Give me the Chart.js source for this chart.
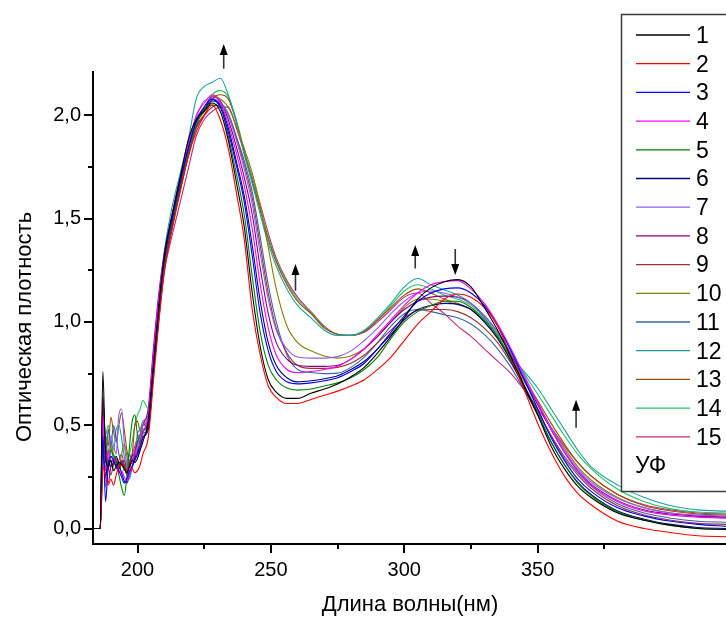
<!DOCTYPE html>
<html>
<head>
<meta charset="utf-8">
<script src="https://cdn.jsdelivr.net/npm/chart.js@4.4.1/dist/chart.umd.min.js"></script>
<style>
  html, body { margin: 0; padding: 0; background: #fff; }
  #wrap { width: 726px; height: 619px; }
</style>
</head>
<body>
<div id="wrap"><canvas id="spectra" width="726" height="619"></canvas></div>
<script>
// wavelength grid, nm
const wavelengths = [
  183.4, 186, 187, 188, 189, 190, 191, 192, 193, 194, 195, 196, 197, 198, 199, 200, 201, 202,
  204, 206, 208, 210, 213, 216, 219, 222, 225, 228, 231,
  234, 237, 240, 243, 246, 249, 252, 256, 260,
  265, 270, 275, 280, 285, 290, 295, 300, 305, 310, 315, 320, 325, 330, 335, 340, 345, 350, 355, 360, 365, 370,
  380, 390, 400, 410, 421
];

// optical density, one array per spectrum
const s1 = [0,0,0.76,0.35,0.30,0.33,0.28,0.30,0.32,0.31,0.29,0.27,0.30,0.33,0.32,0.34,0.38,0.42,
  0.52,0.80,1.08,1.32,1.52,1.70,1.88,1.98,2.02,2.06,2.02,
  1.88,1.68,1.46,1.14,0.88,0.72,0.66,0.63,0.63,
  0.655,0.675,0.70,0.735,0.78,0.85,0.93,1.02,1.11,1.165,1.195,1.205,1.17,1.07,0.96,0.83,0.69,0.55,0.40,0.29,0.205,0.15,
  0.075,0.04,0.015,0.0,-0.005];
const s2 = [0,0,0.30,0.25,0.21,0.24,0.21,0.26,0.30,0.31,0.30,0.27,0.30,0.29,0.27,0.28,0.31,0.36,
  0.44,0.72,1.00,1.24,1.45,1.63,1.80,1.92,2.00,2.05,1.98,
  1.84,1.63,1.40,1.06,0.84,0.69,0.635,0.605,0.605,
  0.625,0.645,0.665,0.69,0.72,0.77,0.83,0.91,0.99,1.05,1.11,1.135,1.12,1.07,0.98,0.83,0.67,0.51,0.37,0.255,0.17,0.115,
  0.035,0.0,-0.02,-0.035,-0.04];
const s3 = [0,0,0.45,0.13,0.30,0.35,0.33,0.30,0.28,0.25,0.22,0.24,0.28,0.30,0.33,0.36,0.40,0.44,
  0.50,0.78,1.06,1.30,1.50,1.68,1.84,1.97,2.04,2.08,2.04,
  1.92,1.76,1.58,1.32,1.04,0.86,0.76,0.71,0.70,
  0.705,0.715,0.73,0.76,0.80,0.87,0.95,1.03,1.10,1.14,1.16,1.165,1.14,1.08,0.98,0.86,0.72,0.58,0.44,0.33,0.24,0.18,
  0.10,0.06,0.035,0.02,0.01];
const s4 = [0,0,0.55,0.28,0.38,0.32,0.34,0.30,0.27,0.28,0.25,0.23,0.26,0.30,0.38,0.35,0.40,0.46,
  0.55,0.85,1.12,1.32,1.52,1.70,1.86,2.00,2.06,2.10,2.06,
  1.96,1.82,1.66,1.45,1.18,0.97,0.84,0.77,0.755,
  0.76,0.77,0.785,0.82,0.87,0.94,1.01,1.08,1.14,1.18,1.195,1.20,1.16,1.09,0.99,0.87,0.74,0.61,0.48,0.37,0.28,0.21,
  0.13,0.085,0.065,0.055,0.05];
const s5 = [0,0,0.35,0.42,0.30,0.38,0.35,0.32,0.26,0.20,0.16,0.25,0.40,0.52,0.55,0.45,0.42,0.47,
  0.52,0.80,1.05,1.28,1.48,1.66,1.82,1.95,2.03,2.05,2.04,
  1.90,1.72,1.52,1.22,0.95,0.79,0.72,0.68,0.67,
  0.675,0.69,0.705,0.73,0.77,0.83,0.92,1.00,1.05,1.08,1.10,1.10,1.07,1.01,0.93,0.82,0.69,0.56,0.42,0.31,0.22,0.16,
  0.08,0.04,0.015,0.0,-0.005];
const s6 = [0,0,0.40,0.25,0.33,0.30,0.32,0.35,0.31,0.27,0.23,0.22,0.26,0.30,0.34,0.37,0.40,0.44,
  0.48,0.76,1.04,1.28,1.48,1.67,1.84,1.97,2.03,2.07,2.05,
  1.94,1.78,1.61,1.37,1.10,0.90,0.79,0.73,0.71,
  0.715,0.725,0.74,0.77,0.81,0.87,0.94,1.01,1.06,1.08,1.09,1.085,1.06,1.00,0.92,0.81,0.68,0.55,0.42,0.31,0.225,0.165,
  0.085,0.045,0.02,0.005,0.0];
const s7 = [0,0,0.50,0.20,0.35,0.45,0.40,0.36,0.55,0.58,0.42,0.30,0.27,0.30,0.34,0.40,0.45,0.50,
  0.54,0.82,1.08,1.30,1.50,1.68,1.85,1.99,2.07,2.08,2.06,
  2.00,1.88,1.74,1.57,1.33,1.11,0.96,0.87,0.83,
  0.825,0.825,0.832,0.86,0.91,0.97,1.04,1.10,1.14,1.15,1.14,1.12,1.09,1.03,0.95,0.85,0.73,0.61,0.49,0.38,0.29,0.225,
  0.145,0.10,0.075,0.065,0.06];
const s8 = [0,0,0.64,0.38,0.22,0.30,0.34,0.31,0.29,0.33,0.30,0.26,0.32,0.35,0.37,0.42,0.45,0.50,
  0.58,0.88,1.14,1.33,1.52,1.69,1.86,1.98,2.04,2.09,2.07,
  1.98,1.85,1.70,1.52,1.26,1.04,0.90,0.82,0.79,
  0.785,0.785,0.79,0.82,0.87,0.93,1.00,1.06,1.10,1.12,1.125,1.12,1.09,1.03,0.95,0.84,0.72,0.60,0.48,0.37,0.28,0.215,
  0.135,0.09,0.07,0.06,0.055];
const s9 = [0,0,0.58,0.40,0.30,0.26,0.31,0.34,0.29,0.31,0.33,0.28,0.30,0.33,0.36,0.38,0.42,0.46,
  0.48,0.76,1.02,1.25,1.46,1.64,1.80,1.94,2.00,2.04,2.05,
  2.00,1.89,1.76,1.60,1.37,1.14,0.97,0.85,0.79,
  0.775,0.775,0.78,0.80,0.84,0.90,0.96,1.02,1.055,1.06,1.06,1.05,1.02,0.97,0.90,0.80,0.69,0.57,0.45,0.34,0.26,0.195,
  0.11,0.065,0.04,0.025,0.02];
const s10 = [0,0,0.38,0.45,0.32,0.40,0.36,0.33,0.30,0.36,0.41,0.35,0.30,0.33,0.38,0.42,0.45,0.48,
  0.50,0.77,1.03,1.26,1.47,1.65,1.82,1.96,2.02,2.10,2.08,
  2.04,1.95,1.84,1.72,1.56,1.36,1.16,0.98,0.90,
  0.86,0.835,0.825,0.835,0.87,0.93,1.00,1.07,1.11,1.11,1.10,1.085,1.06,1.00,0.92,0.82,0.71,0.60,0.49,0.39,0.30,0.235,
  0.15,0.10,0.075,0.06,0.055];
const s11 = [0,0,0.42,0.32,0.48,0.40,0.50,0.44,0.36,0.32,0.30,0.33,0.36,0.32,0.35,0.40,0.43,0.47,
  0.50,0.78,1.05,1.30,1.52,1.70,1.84,1.95,2.00,2.04,2.06,
  2.01,1.90,1.78,1.63,1.41,1.18,1.00,0.84,0.77,
  0.755,0.75,0.752,0.78,0.83,0.90,0.98,1.04,1.06,1.05,1.035,1.02,0.99,0.94,0.87,0.78,0.67,0.56,0.45,0.35,0.27,0.205,
  0.12,0.075,0.05,0.035,0.03];
const s12 = [0,0,0.48,0.36,0.30,0.42,0.38,0.48,0.50,0.44,0.35,0.28,0.24,0.30,0.36,0.46,0.48,0.52,
  0.55,0.84,1.10,1.34,1.56,1.72,1.88,2.08,2.14,2.16,2.18,
  2.10,1.97,1.81,1.67,1.52,1.38,1.27,1.16,1.08,
  1.02,0.96,0.935,0.935,0.96,1.02,1.09,1.17,1.21,1.18,1.155,1.13,1.09,1.02,0.93,0.83,0.76,0.68,0.58,0.48,0.38,0.30,
  0.21,0.15,0.11,0.09,0.084];
const s13 = [0,0,0.30,0.45,0.40,0.54,0.47,0.42,0.50,0.56,0.48,0.38,0.33,0.36,0.50,0.52,0.47,0.50,
  0.52,0.78,1.04,1.27,1.47,1.64,1.80,1.94,2.00,2.08,2.10,
  2.08,1.97,1.82,1.68,1.54,1.40,1.29,1.18,1.10,
  1.04,0.97,0.94,0.935,0.955,1.01,1.07,1.13,1.16,1.14,1.11,1.09,1.06,1.00,0.92,0.82,0.72,0.62,0.51,0.41,0.32,0.255,
  0.165,0.11,0.085,0.07,0.065];
const s14 = [0,0,0.60,0.45,0.50,0.40,0.33,0.30,0.28,0.32,0.28,0.30,0.36,0.42,0.50,0.55,0.58,0.62,
  0.58,0.84,1.08,1.30,1.50,1.67,1.83,1.96,2.02,2.10,2.12,
  2.09,1.98,1.83,1.69,1.55,1.41,1.30,1.19,1.11,
  1.045,0.975,0.94,0.935,0.955,1.01,1.08,1.15,1.18,1.16,1.13,1.11,1.08,1.02,0.94,0.85,0.75,0.65,0.55,0.45,0.36,0.29,
  0.19,0.13,0.095,0.08,0.075];
const s15 = [0,0,0.62,0.40,0.28,0.35,0.32,0.30,0.33,0.36,0.31,0.28,0.31,0.36,0.40,0.44,0.46,0.50,
  0.50,0.76,1.02,1.24,1.42,1.58,1.74,1.90,1.98,2.02,2.04,
  2.04,1.94,1.82,1.70,1.57,1.43,1.31,1.20,1.12,
  1.05,0.98,0.94,0.935,0.95,1.00,1.06,1.12,1.14,1.09,1.04,0.98,0.93,0.87,0.81,0.75,0.67,0.58,0.49,0.40,0.32,0.255,
  0.165,0.115,0.09,0.075,0.07];

const seriesNames = ['1','2','3','4','5','6','7','8','9','10','11','12','13','14','15'];
const seriesValues = [s1,s2,s3,s4,s5,s6,s7,s8,s9,s10,s11,s12,s13,s14,s15];
const seriesColors = ['#000000','#ff0000','#0000ff','#ff00ff','#008000','#000080','#8f5cf5','#800080',
  '#a03030','#808000','#3565a5','#1f9f9f','#9a4c00','#20c060','#c8287a'];

// arrows: wavelength, tail value, head value
const arrowMarks = [
  [232.3, 2.226, 2.346],
  [259.2, 1.151, 1.280],
  [304.1, 1.259, 1.372],
  [319.1, 1.353, 1.227],
  [364.4, 0.488, 0.623]
];

const xMajor = [200, 250, 300, 350];
const xMinor = [225, 275, 325, 375];
const yMajor = [0, 0.5, 1.0, 1.5, 2.0];
const yMinor = [0.25, 0.75, 1.25, 1.75];

const FONT = 'Arial, "Liberation Sans", sans-serif';

const decorations = {
  id: 'decorations',
  afterDraw(chart) {
    const { ctx, scales: { x, y }, chartArea } = chart;
    ctx.save();
    // tick marks
    ctx.strokeStyle = '#000';
    ctx.lineWidth = 2;
    ctx.beginPath();
    xMajor.forEach(v => { const p = Math.round(x.getPixelForValue(v)); ctx.moveTo(p, chartArea.bottom); ctx.lineTo(p, chartArea.bottom + 9); });
    xMinor.forEach(v => { const p = Math.round(x.getPixelForValue(v)); ctx.moveTo(p, chartArea.bottom); ctx.lineTo(p, chartArea.bottom + 5); });
    yMajor.forEach(v => { const p = Math.round(y.getPixelForValue(v)); ctx.moveTo(chartArea.left, p); ctx.lineTo(chartArea.left - 9, p); });
    yMinor.forEach(v => { const p = Math.round(y.getPixelForValue(v)); ctx.moveTo(chartArea.left, p); ctx.lineTo(chartArea.left - 5, p); });
    ctx.stroke();

    // arrows
    arrowMarks.forEach(([wl, from, to]) => {
      const px = x.getPixelForValue(wl);
      const p0 = y.getPixelForValue(from);
      const p1 = y.getPixelForValue(to);
      const dir = p1 < p0 ? -1 : 1;
      ctx.strokeStyle = '#333';
      ctx.lineWidth = 1.6;
      ctx.beginPath();
      ctx.moveTo(px, p0);
      ctx.lineTo(px, p1 - dir * 8);
      ctx.stroke();
      ctx.fillStyle = '#000';
      ctx.beginPath();
      ctx.moveTo(px, p1);
      ctx.lineTo(px - 4, p1 - dir * 11);
      ctx.lineTo(px + 4, p1 - dir * 11);
      ctx.closePath();
      ctx.fill();
    });

    // legend
    ctx.fillStyle = '#fff';
    ctx.fillRect(621, 14, 110, 478);
    ctx.strokeStyle = '#3c3c3c';
    ctx.lineWidth = 1.5;
    ctx.strokeRect(621.5, 14.5, 130, 477);
    ctx.font = '23px ' + FONT;
    ctx.textBaseline = 'middle';
    ctx.textAlign = 'left';
    chart.data.datasets.forEach((ds, i) => {
      const ly = 35 + i * 28.7;
      ctx.strokeStyle = ds.borderColor;
      ctx.lineWidth = 1.3;
      ctx.beginPath();
      ctx.moveTo(636, ly);
      ctx.lineTo(690, ly);
      ctx.stroke();
      ctx.fillStyle = '#000';
      ctx.fillText(ds.label, 696, ly + 1.5);
    });
    ctx.fillText('УФ', 635, 35 + 15 * 28.7 + 1);

    // axis titles
    ctx.font = '22px ' + FONT;
    ctx.textAlign = 'center';
    ctx.fillText('Длина волны(нм)', 410, 605);
    ctx.translate(25, 327);
    ctx.rotate(-Math.PI / 2);
    ctx.fillText('Оптическая плотность', 0, 0);
    ctx.restore();
  }
};

new Chart(document.getElementById('spectra'), {
  type: 'line',
  data: {
    datasets: seriesValues.map((vals, i) => ({
      label: seriesNames[i],
      data: vals.map((v, k) => ({ x: wavelengths[k], y: v })),
      borderColor: seriesColors[i],
      borderWidth: 1.1,
      pointRadius: 0,
      fill: false,
      cubicInterpolationMode: 'monotone'
    }))
  },
  options: {
    responsive: false,
    animation: false,
    devicePixelRatio: 1,
    layout: { padding: { top: 72, right: 0, bottom: 0, left: 0 } },
    plugins: { legend: { display: false }, tooltip: { enabled: false } },
    scales: {
      x: {
        type: 'linear',
        min: 183.3,
        max: 420.6,
        grid: { display: false, drawTicks: false },
        border: { display: true, color: '#000', width: 2 },
        ticks: {
          stepSize: 25,
          includeBounds: false,
          maxRotation: 0,
          autoSkip: false,
          padding: 14,
          color: '#000',
          font: { family: FONT, size: 20 },
          callback: v => (v % 50 === 0 && v <= 350 ? String(v) : '')
        },
        afterFit: s => { s.height = 75; }
      },
      y: {
        min: -0.075,
        max: 2.21,
        grid: { display: false, drawTicks: false },
        border: { display: true, color: '#000', width: 2 },
        ticks: {
          stepSize: 0.25,
          includeBounds: false,
          autoSkip: false,
          padding: 12,
          color: '#000',
          font: { family: FONT, size: 20 },
          callback: v => (Math.abs(v * 2 - Math.round(v * 2)) < 1e-6 ? v.toFixed(1).replace('.', ',') : '')
        },
        afterFit: s => { s.width = 93; }
      }
    }
  },
  plugins: [decorations]
});
</script>
</body>
</html>
